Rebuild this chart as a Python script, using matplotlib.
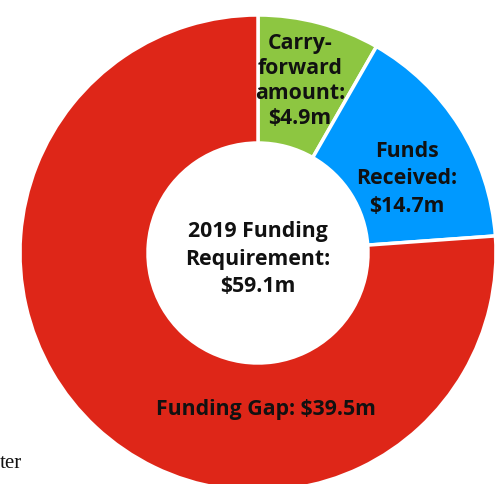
import matplotlib.pyplot as plt

categories = ['Carry-forward amount', 'Funds Received', 'Funding Gap']
slice_values = [4.9, 9.2, 45.0]
label_values = ['$4.9m', '$14.7m', '$39.5m']
total_label = '$59.1m'
colors = ['#8DC641', '#0099FF', '#DE2618']

W, H = 503, 484
fig = plt.figure(figsize=(W / 100, H / 100), dpi=100)
ax = fig.add_axes([0, 0, 1, 1])

cx, cy = 258, H - 253
R = 238
ax.pie(slice_values, colors=colors, startangle=90, counterclock=False,
       center=(cx, cy), radius=R, frame=True,
       wedgeprops=dict(width=R - 110, edgecolor='white', linewidth=2.5))
ax.set_xlim(0, W)
ax.set_ylim(0, H)
ax.set_aspect('equal')
ax.axis('off')

font = ['Open Sans', 'DejaVu Sans']
kw = dict(ha='center', va='center', fontweight='bold', family=font,
          color='#111111', fontsize=15.3)

ax.text(300, H - 81, 'Carry-\nforward\namount:\n' + label_values[0],
        linespacing=1.23, **kw)
ax.text(407, H - 179, 'Funds\nReceived:\n' + label_values[1],
        linespacing=1.42, **kw)
ax.text(258, H - 259, '2019 Funding\nRequirement:\n' + total_label,
        linespacing=1.4, **kw)
ax.text(266, H - 409, 'Funding Gap: ' + label_values[2], **kw)

ax.text(0, H - 463, 'ter', ha='left', va='center', family='Liberation Serif',
        fontsize=15, color='#111111')

fig.savefig('out.png', dpi=100)
